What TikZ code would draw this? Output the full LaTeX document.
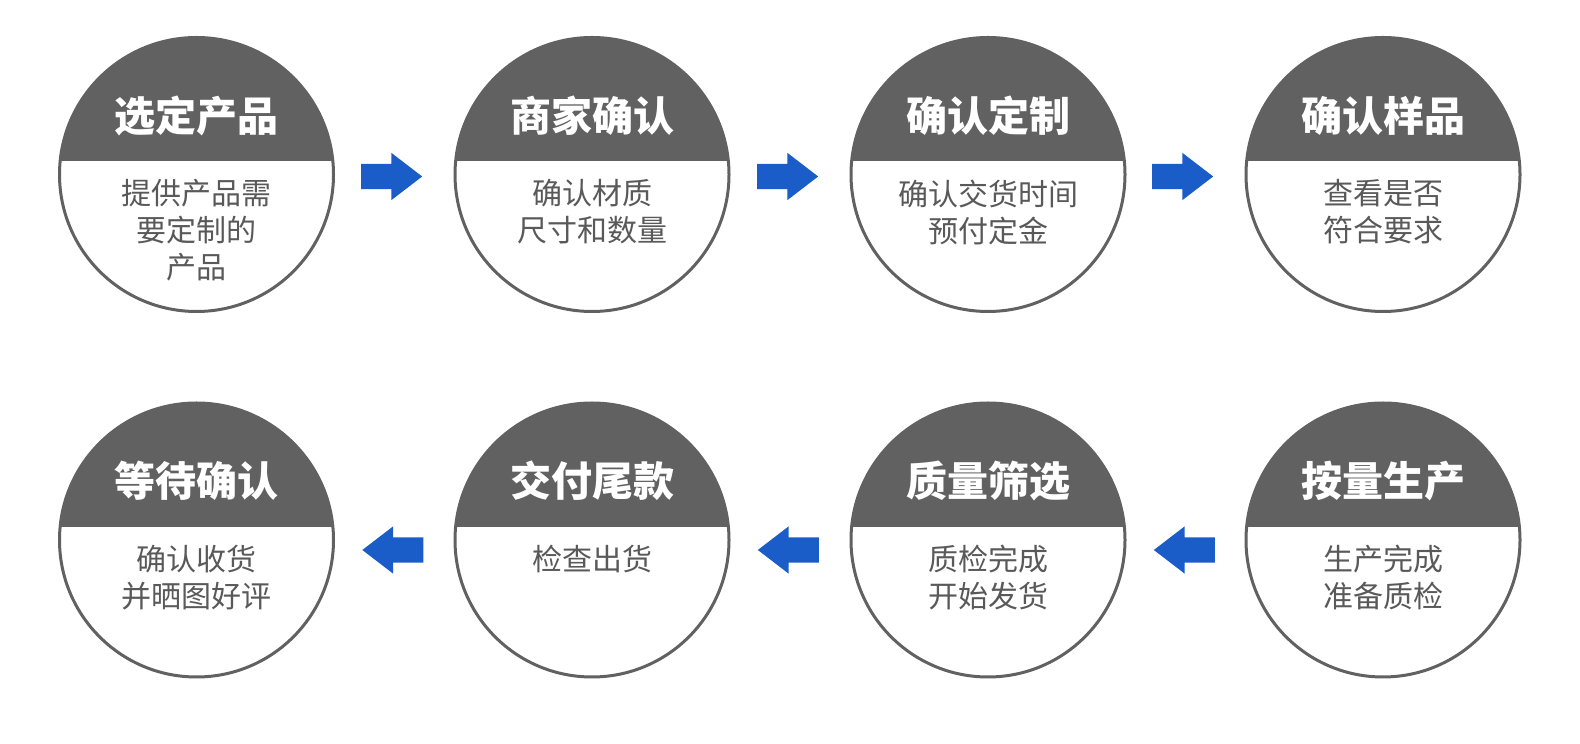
\documentclass[tikz,border=0pt]{standalone}
\usepackage{fontspec}
\newfontfamily\cjk{Noto Sans CJK SC}
\usetikzlibrary{calc,positioning,shapes.arrows}
\definecolor{StepDark}{HTML}{616161}
\definecolor{StepText}{HTML}{595959}
\definecolor{StepBlue}{HTML}{1A5DC8}
\tikzset{
  stepcircle/.style={circle,draw=StepDark,line width=3pt,fill=white,minimum size=274pt,inner sep=0pt,
    path picture={\fill[StepDark] ([yshift=13pt]path picture bounding box.west) rectangle (path picture bounding box.north east);}},
  steptitle/.style={font=\cjk\bfseries\fontsize{41}{46}\selectfont,text=white,inner sep=0pt},
  stepbody/.style={font=\cjk\fontsize{30}{37}\selectfont,text=StepText,align=center,inner sep=0pt,anchor=north},
  blockarrow/.style={single arrow,fill=StepBlue,draw=none,inner sep=0pt,inner ysep=12.5pt,minimum height=61pt,
    single arrow head extend=11pt,single arrow tip angle=75,anchor=tip},
  backarrow/.style={blockarrow,shape border rotate=180}
}
\begin{document}
\begin{tikzpicture}[x=1pt,y=1pt]
  \useasboundingbox[fill=white] (0,0) rectangle (1580,744);
  % top row
  \node[stepcircle] (s1) at (196.5,569.5) {};
  \node[stepcircle] (s2) at (592,569.5) {};
  \node[stepcircle] (s3) at (988,569.5) {};
  \node[stepcircle] (s4) at (1383,569.5) {};
  % bottom row
  \node[stepcircle] (s8) at (196.5,204) {};
  \node[stepcircle] (s7) at (592,204) {};
  \node[stepcircle] (s6) at (988,204) {};
  \node[stepcircle] (s5) at (1383,204) {};

  \foreach \n/\t/\b in {s1/选定产品/{提供产品需\\要定制的\\产品},s2/商家确认/{确认材质\\尺寸和数量},
      s3/确认定制/{确认交货时间\\预付定金},s4/确认样品/{查看是否\\符合要求},s5/按量生产/{生产完成\\准备质检},
      s6/质量筛选/{质检完成\\开始发货},s7/交付尾款/{检查出货},s8/等待确认/{确认收货\\并晒图好评}}{
    \node[steptitle] (\n-title) at ([yshift=59pt]\n.center) {\t};
    \node[stepbody] (\n-body) at ([yshift=-5pt]\n.center) {\b};
  }

  % arrows between the steps
  \foreach \a/\b in {s1/s2,s2/s3,s3/s4}
    \node[blockarrow] (\a-\b) at ([xshift=-31pt,yshift=-2pt]\b.west) {};
  \foreach \a/\b in {s5/s6,s6/s7,s7/s8}
    \node[backarrow] (\a-\b) at ([xshift=27pt,yshift=-10pt]\b.east) {};
\end{tikzpicture}
\end{document}
